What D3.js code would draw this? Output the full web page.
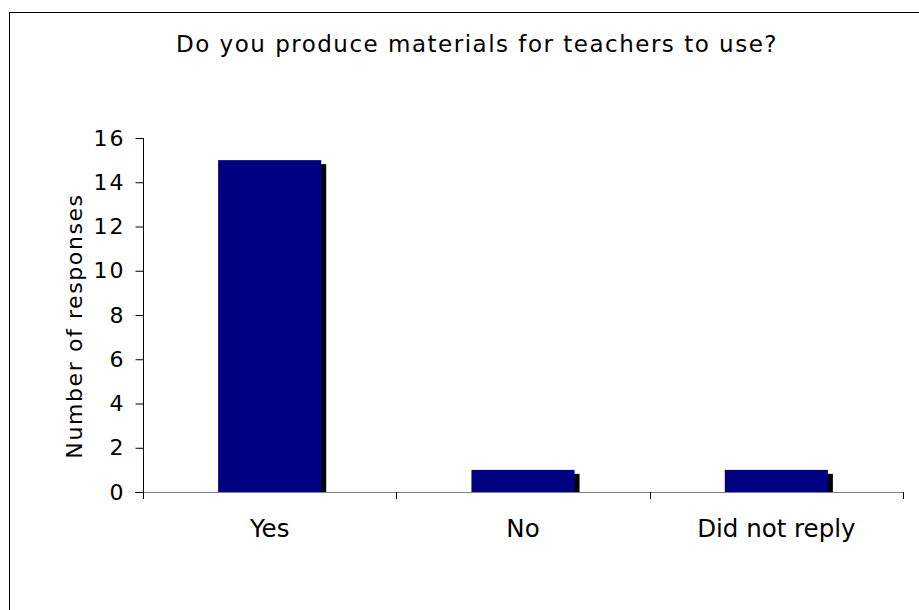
<!DOCTYPE html>
<html>
<head>
<meta charset="utf-8">
<script src="https://cdn.jsdelivr.net/npm/d3@7"></script>
<style>
  body { margin: 0; background: #fff; }
  text { font-family: "DejaVu Sans", Verdana, sans-serif; fill: #000; }
</style>
</head>
<body>
<svg></svg>
<script>
const categories = ["Yes", "No", "Did not reply"],
      responses = [15, 1, 1],
      yTicks = [0, 2, 4, 6, 8, 10, 12, 14, 16];

const width = 919,
      height = 610,
      plot = {left: 143, right: 903, top: 138, bottom: 492};

const svg = d3.select("svg")
              .attr("width", width)
              .attr("height", height);

// outer frame, runs off the right and bottom edge
svg.append("rect")
   .attr("x", 9.5)
   .attr("y", 12.5)
   .attr("width", 1000)
   .attr("height", 1000)
   .attr("fill", "none")
   .attr("stroke", "#000");

let x = d3.scaleBand()
          .domain(categories)
          .range([plot.left, plot.right])
          .padding(0);

let y = d3.scaleLinear()
          .domain([0, 16])
          .range([plot.bottom, plot.top]);

const barW = x.bandwidth() * 0.407;

// Shadows behind the bars
svg.append("g")
   .selectAll("rect")
   .data(categories)
   .enter().append("rect")
   .attr("x", (d) => x(d) + (x.bandwidth() - barW) / 2 + 5)
   .attr("y", (d, i) => y(responses[i]) + 4)
   .attr("width", barW)
   .attr("height", (d, i) => y(0) - y(responses[i]) - 4)
   .attr("fill", "#000");

// Bars
svg.append("g")
   .selectAll("rect")
   .data(categories)
   .enter().append("rect")
   .attr("x", (d) => x(d) + (x.bandwidth() - barW) / 2)
   .attr("y", (d, i) => y(responses[i]))
   .attr("width", barW)
   .attr("height", (d, i) => y(0) - y(responses[i]))
   .attr("fill", "#000080");

// x axis
let xAxis = svg.append("g")
   .attr("transform", "translate(0," + plot.bottom + ")")
   .call(d3.axisBottom(x).tickSize(0).tickFormat(""));
xAxis.select(".domain").remove();
xAxis.append("line")
   .attr("x1", plot.left - 8).attr("x2", plot.right)
   .attr("y1", 0.5).attr("y2", 0.5)
   .attr("stroke", "#808080");
xAxis.selectAll(".sep")
   .data(categories)
   .enter().append("line")
   .attr("class", "sep")
   .attr("x1", (d) => Math.round(x(d) + x.bandwidth()) + 0.5)
   .attr("x2", (d) => Math.round(x(d) + x.bandwidth()) + 0.5)
   .attr("y1", 0).attr("y2", 7)
   .attr("stroke", "#000");

svg.append("g")
   .selectAll("text")
   .data(categories)
   .enter().append("text")
   .attr("x", (d) => x(d) + x.bandwidth() / 2)
   .attr("y", 537)
   .attr("text-anchor", "middle")
   .attr("font-size", 24.5)
   .text((d) => d);

// y axis
let yAxis = svg.append("g")
   .attr("transform", "translate(" + (plot.left + 0.5) + ",0)")
   .call(d3.axisLeft(y).tickValues(yTicks).tickSize(8).tickPadding(10));
yAxis.select(".domain")
   .attr("d", "M0," + plot.top + "V" + (plot.bottom + 7));
yAxis.selectAll("line").attr("stroke", "#000");
yAxis.selectAll("text")
   .attr("font-size", 22)
   .attr("letter-spacing", 2)
   .attr("font-family", "DejaVu Sans, sans-serif")
   .attr("fill", "#000");

// Axis title
svg.append("text")
   .attr("transform", "translate(82,326) rotate(-90)")
   .attr("text-anchor", "middle")
   .attr("font-size", 22)
   .attr("letter-spacing", 1.6)
   .text("Number of responses");

// Chart title
svg.append("text")
   .attr("x", 477)
   .attr("y", 52)
   .attr("text-anchor", "middle")
   .attr("font-size", 23)
   .attr("letter-spacing", 1.5)
   .text("Do you produce materials for teachers to use?");
</script>
</body>
</html>
